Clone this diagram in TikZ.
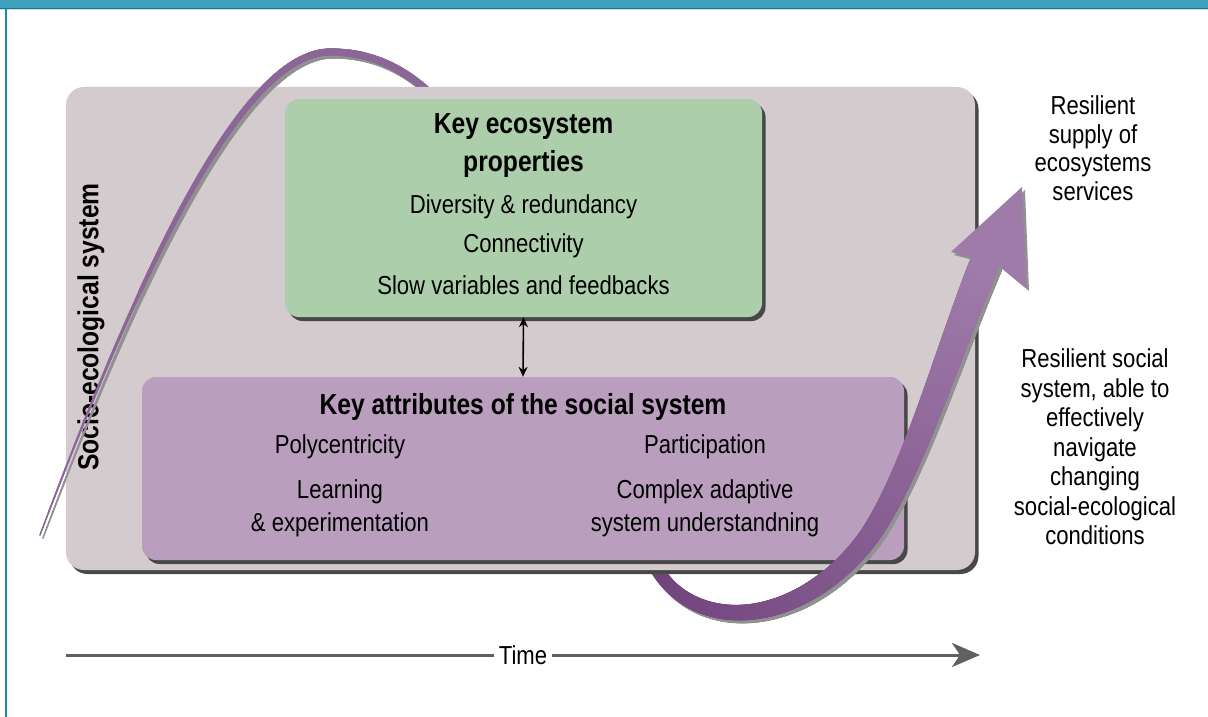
\documentclass[tikz,border=0pt]{standalone}
\usepackage{fontspec}
\setmainfont{Liberation Sans}[FakeStretch=0.85]
\usetikzlibrary{arrows.meta, shadows, decorations.markings, positioning}

\definecolor{bandblue}{RGB}{62,160,188}
\definecolor{bandline}{RGB}{16,118,146}
\definecolor{bandlight}{RGB}{205,232,240}
\definecolor{frameblue}{RGB}{28,140,170}
\definecolor{sesgray}{RGB}{212,203,207}
\definecolor{ecogreen}{RGB}{173,206,170}
\definecolor{socpurple}{RGB}{185,158,190}
\definecolor{boxshadow}{RGB}{72,72,72}
\definecolor{rblight}{RGB}{158,123,168}
\definecolor{rbdark}{RGB}{110,64,122}
\definecolor{rbshadow}{RGB}{145,145,145}
\definecolor{timegray}{RGB}{95,96,98}

\tikzstyle{panel} = [rounded corners=14pt, inner sep=0pt, drop shadow={shadow xshift=3.5pt, shadow yshift=-4pt, fill=boxshadow, opacity=1}]
\tikzstyle{item} = [font=\fontsize{26}{33}\selectfont, align=center, inner sep=0pt]
\tikzstyle{heading} = [font=\bfseries\fontsize{29}{38}\selectfont, align=center, inner sep=0pt]
\tikzstyle{vtitle} = [font=\bfseries\fontsize{29}{30}\selectfont, inner sep=0pt, rotate=90]
\tikzstyle{dblarrow} = [line width=1.6pt, {Stealth[length=10pt,width=9pt]}-{Stealth[length=10pt,width=9pt]}]
\tikzstyle{timearrow} = [line width=3pt, timegray, -{Stealth[length=28pt,width=24pt,inset=8pt]}]
\tikzstyle{timelabel} = [item, fill=white, text=black, inner sep=5pt]

% tapering ribbon: start radius, end radius, start colour, end colour, from, to, step
\tikzset{
  ribbon/.style n args={7}{decorate, decoration={markings,
      mark=between positions #5 and #6 step #7 with {%
        \pgfmathsetmacro\ribfrac{\pgfkeysvalueof{/pgf/decoration/mark info/distance from start}/\pgfdecoratedpathlength}%
        \pgfmathsetmacro\ribrad{#1+(#2-#1)*\ribfrac}%
        \pgfmathtruncatemacro\ribmix{100*(1-\ribfrac)}%
        \fill[#3!\ribmix!#4] (0,0) circle[radius=\ribrad pt];}}},
  risepath/.style={insert path={(40,535) .. controls (125,310) and (235,52) .. (330,52) .. controls (390,52) and (430,85) .. (470,140)}},
  looppath/.style={insert path={(648,552) .. controls (680,635) and (795,635) .. (868,538) .. controls (912,475) and (945,360) .. (985,262)}}
}

\begin{document}
\begin{tikzpicture}[x=1pt, y=-1pt, node distance=39pt]
\useasboundingbox (0,0) rectangle (1208,717);
\fill[white] (0,0) rectangle (1208,717);
% frame
\fill[bandblue] (0,0) rectangle (1208,8);
\draw[bandline, line width=1.2pt] (0,8.4) -- (1208,8.4);
\draw[bandlight, line width=1pt] (0,9.8) -- (1208,9.8);
\draw[frameblue, line width=1.6pt] (6,9) -- (6,717);

% ribbon, parts behind the panels
\path[xshift=3pt, yshift=-3pt, ribbon={0.7}{4.5}{rbshadow}{rbshadow}{0}{1}{0.6pt}, risepath];
\path[ribbon={0.7}{4.5}{rblight}{rblight!65!rbdark}{0}{1}{0.6pt}, risepath];
\path[xshift=3pt, yshift=-3pt, ribbon={6}{15}{rbshadow}{rbshadow}{0}{1}{1pt}, looppath];
\path[ribbon={6}{15}{rbdark}{rblight}{0}{1}{1pt}, looppath];

% panels
\node[panel, fill=sesgray, rounded corners=18pt, minimum width=909pt, minimum height=483pt] (ses) at (520.5,328.5) {};
\node[panel, fill=ecogreen, minimum width=477pt, minimum height=218pt] (eco) at (523.5,208) {};
\node[panel, fill=socpurple, minimum width=762pt, minimum height=183pt] (soc) at (523,468.5) {};

\node[vtitle] (sestitle) at (91,327) {Socio-ecological system};

% ribbon, parts in front of the panels
\path[xshift=3pt, yshift=-3pt, ribbon={0.7}{4.5}{rbshadow}{rbshadow}{0}{0.76}{0.6pt}, risepath];
\path[ribbon={0.7}{4.5}{rblight}{rblight!65!rbdark}{0}{0.8}{0.6pt}, risepath];
\path[xshift=3pt, yshift=-3pt, ribbon={6}{15}{rbshadow}{rbshadow}{0.3}{1}{1pt}, looppath];
\fill[rbshadow, xshift=3pt, yshift=-3pt] (951,252) -- (1022,187) -- (1026,288) -- (997,264) -- cycle;
\path[ribbon={6}{15}{rbdark}{rblight}{0.25}{1}{1pt}, looppath];
\fill[rblight] (951,252) -- (1022,187) -- (1026,288) -- (997,264) -- cycle;

% ecosystem panel
\node[heading] (ecotitle) at (523.5,146) {Key ecosystem\\properties};
\node[item] (divers) at (523.5,207) {Diversity \& redundancy};
\node[item, below of=divers] (connect) {Connectivity};
\node[item, below of=connect] (slow) {Slow variables and feedbacks};

% social panel
\node[heading] (soctitle) at (523,407) {Key attributes of the social system};
\node[item] (poly) at (340,447) {Polycentricity};
\node[item] (learn) at (340,508.5) {Learning\\\& experimentation};
\node[item] (partic) at (705,447) {Participation};
\node[item] (complex) at (705,508.5) {Complex adaptive\\system understandning};

\draw[dblarrow] (eco.south) -- (soc.north);

% outcomes
\node[item, font=\fontsize{26}{28.5}\selectfont] (supply) at (1093,148) {Resilient\\supply of\\ecosystems\\services};
\node[item, font=\fontsize{26}{29.5}\selectfont] (navigate) at (1095,447) {Resilient social\\system, able to\\effectively\\navigate\\changing\\social-ecological\\conditions};

% time axis
\coordinate (tstart) at (66,655);
\coordinate (tend) at (980,655);
\draw[timearrow] (tstart) -- node[timelabel] (time) {Time} (tend);
\end{tikzpicture}
\end{document}
